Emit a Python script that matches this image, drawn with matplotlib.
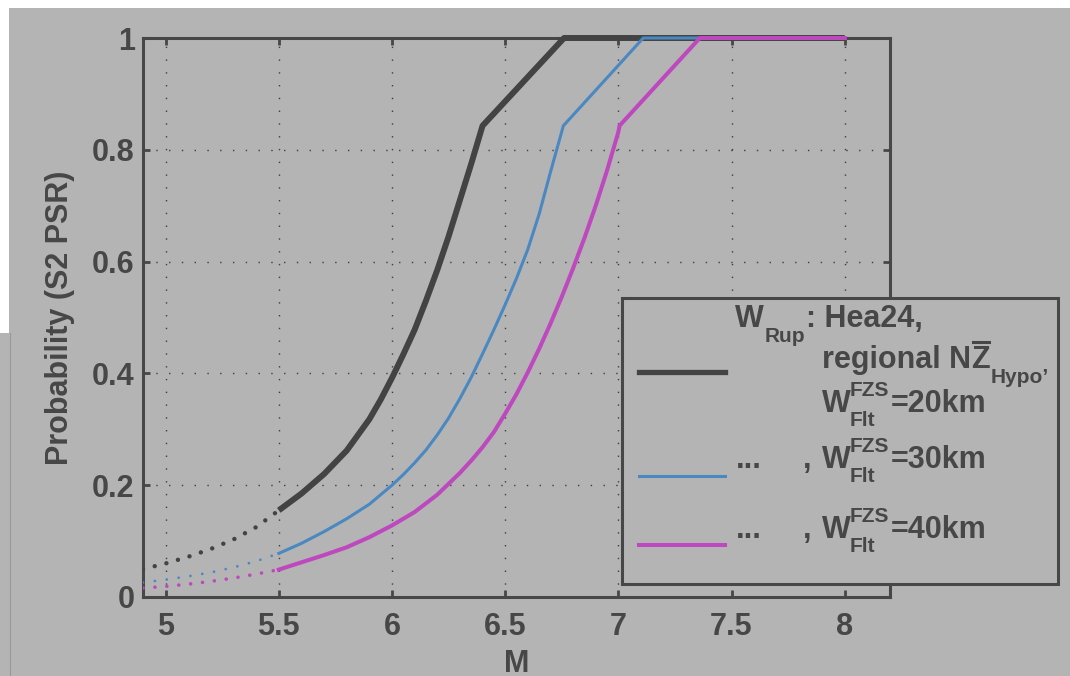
import matplotlib
matplotlib.use("Agg")
import matplotlib.pyplot as plt
from matplotlib.lines import Line2D
from matplotlib.patches import Rectangle

# ---------------- data ----------------
# solid parts (M >= 5.5)
m_black = [5.5, 5.6, 5.7, 5.8, 5.9, 5.95, 6.0, 6.05, 6.1, 6.15, 6.2, 6.25, 6.3, 6.35, 6.4, 6.76, 8.0]
p_black = [0.155, 0.185, 0.22, 0.262, 0.318, 0.353, 0.392, 0.434, 0.478, 0.53, 0.585, 0.645, 0.71, 0.775, 0.843, 1.0, 1.0]

m_blue = [5.5, 5.6, 5.7, 5.8, 5.9, 6.0, 6.05, 6.1, 6.15, 6.2, 6.25, 6.3, 6.35, 6.4, 6.45, 6.5,
          6.55, 6.6, 6.65, 6.7, 6.757, 7.11, 8.0]
p_blue = [0.078, 0.096, 0.117, 0.14, 0.166, 0.2, 0.219, 0.24, 0.263, 0.29, 0.32, 0.355, 0.393, 0.435, 0.478, 0.523,
          0.57, 0.622, 0.685, 0.76, 0.843, 1.0, 1.0]

m_mag = [5.5, 5.6, 5.7, 5.8, 5.9, 6.0, 6.1, 6.2, 6.3, 6.35, 6.4, 6.45, 6.5, 6.55, 6.6, 6.65, 6.7, 6.75,
         6.8, 6.85, 6.9, 6.95, 7.0, 7.005, 7.36, 8.0]
p_mag = [0.049, 0.062, 0.075, 0.089, 0.107, 0.128, 0.152, 0.183, 0.222, 0.244, 0.268, 0.295, 0.328, 0.363,
         0.402, 0.444, 0.489, 0.537, 0.588, 0.642, 0.70, 0.763, 0.832, 0.843, 1.0, 1.0]

# dotted extrapolations (M < 5.5)
m_ext = [4.9, 5.0, 5.1, 5.2, 5.3, 5.4, 5.5]
p_black_ext = [0.05, 0.06, 0.072, 0.086, 0.103, 0.125, 0.155]
p_blue_ext = [0.026, 0.031, 0.037, 0.044, 0.053, 0.064, 0.078]
p_mag_ext = [0.016, 0.019, 0.023, 0.028, 0.034, 0.041, 0.049]

x_ticks = [5, 5.5, 6, 6.5, 7, 7.5, 8]
x_tick_labels = ['5', '5.5', '6', '6.5', '7', '7.5', '8']
y_ticks = [0, 0.2, 0.4, 0.6, 0.8, 1.0]
y_tick_labels = ['0', '0.2', '0.4', '0.6', '0.8', '1']

# ---------------- style ----------------
BG = '#b4b4b4'
FG = '#474747'
C_BLACK = '#434343'
C_BLUE = '#4a88c2'
C_MAG = '#be48be'

plt.rcParams['font.family'] = ['Liberation Sans', 'DejaVu Sans']
plt.rcParams['font.weight'] = 'bold'

W, H = 1070, 676
fig = plt.figure(figsize=(W / 100, H / 100), dpi=100, facecolor=BG)

def fx(x):
    return x / W

def fy(y):
    return 1 - y / H

ax = fig.add_axes([fx(143), fy(597), fx(890) - fx(143), fy(38) - fy(597)])
ax.set_facecolor(BG)

# curves
ax.plot(m_black, p_black, color=C_BLACK, lw=4.3, solid_capstyle='butt', solid_joinstyle='round',
        clip_on=False, zorder=3)
ax.plot(m_blue, p_blue, color=C_BLUE, lw=2.2, solid_joinstyle='round', clip_on=False, zorder=3)
ax.plot(m_mag, p_mag, color=C_MAG, lw=2.9, solid_joinstyle='round', clip_on=False, zorder=3)

ax.plot(m_ext, p_black_ext, color=C_BLACK, lw=3.2, dashes=(0.01, 2.7), dash_capstyle='round', zorder=3)
ax.plot(m_ext, p_blue_ext, color=C_BLUE, lw=2.0, dashes=(0.01, 4.3), dash_capstyle='round', zorder=3)
ax.plot(m_ext, p_mag_ext, color=C_MAG, lw=2.6, dashes=(0.01, 3.3), dash_capstyle='round', zorder=3)

ax.set_xlim(4.9, 8.2)
ax.set_ylim(0, 1)
ax.set_xticks(x_ticks)
ax.set_xticklabels(x_tick_labels)
ax.set_yticks(y_ticks)
ax.set_yticklabels(y_tick_labels)
ax.tick_params(direction='in', length=5, width=2, color=FG, top=True, right=True,
               labelsize=22, labelcolor=FG)
ax.tick_params(axis='x', pad=11)
ax.tick_params(axis='y', pad=6)
for s in ax.spines.values():
    s.set_color(FG)
    s.set_linewidth(2.2)

ax.grid(True, color='#3e3e3e', linewidth=1.0, linestyle=(0, (1, 8.2)))

ax.set_xlabel('M', fontsize=22, color=FG, fontweight='bold')
ax.xaxis.set_label_coords(0.5, -0.093)
ax.xaxis.label.set_va('top')
ax.set_ylabel('Probability (S2 PSR)', fontsize=22, color=FG, fontweight='bold')
ax.yaxis.set_label_coords(-0.091, 0.5)

# ---------------- legend (manual, MATLAB-like layout) ----------------
fig.add_artist(Rectangle((fx(622), fy(584)), fx(1058) - fx(622), fy(298) - fy(584),
                         transform=fig.transFigure, facecolor=BG, edgecolor=FG,
                         linewidth=2.2, zorder=5))
for yy, c, lw in ((372, C_BLACK, 3.8), (476, C_BLUE, 2.2), (545, C_MAG, 2.9)):
    fig.add_artist(Line2D([fx(639), fx(725)], [fy(yy), fy(yy)], transform=fig.transFigure,
                          color=c, lw=lw, zorder=6))

renderer = fig.canvas.get_renderer()
MAIN, SMALL = 22, 15

def put(x, y, s, size=MAIN):
    t = fig.text(fx(x), fy(y), s, fontsize=size, color=FG, fontweight='bold',
                 ha='left', va='baseline', zorder=7)
    bb = t.get_window_extent(renderer)
    return bb.x1

# line 1: W_Rup: Hea24,
xr = put(735, 327, 'W')
xs = put(xr + 1, 342, 'Rup', SMALL)
put(xs + 1, 327, ': Hea24,')

# line 2: regional N Zbar _Hypo'
xn = put(822, 368, 'regional N')
xz = put(xn, 368, 'Z')
fig.add_artist(Line2D([fx(xn + 2), fx(xz - 1)], [fy(342), fy(342)], transform=fig.transFigure,
                      color=FG, lw=2.2, zorder=7))
put(xz + 1, 383, 'Hypo’', SMALL)

def wfzs(x0, base, tail):
    xw = put(x0, base, 'W')
    a = put(xw - 1, base - 16, 'FZS', SMALL)
    b = put(xw - 1, base + 14, 'Flt', SMALL)
    put(max(a, b) + 1, base, tail)

wfzs(822, 412, '=20km')

put(736, 468, '...')
put(803, 468, ',')
wfzs(822, 468, '=30km')

put(736, 538, '...')
put(803, 538, ',')
wfzs(822, 538, '=40km')

# screenshot borders
fig.add_artist(Rectangle((0, fy(8)), 1, fy(0) - fy(8), transform=fig.transFigure,
                         facecolor='white', edgecolor='none', zorder=8))
fig.add_artist(Rectangle((0, fy(333)), fx(9), fy(0) - fy(333), transform=fig.transFigure,
                         facecolor='white', edgecolor='none', zorder=8))
fig.add_artist(Line2D([fx(9.5), fx(9.5)], [0, fy(333)], transform=fig.transFigure,
                      color='#999999', lw=0.8, zorder=8))

fig.savefig('out.png', dpi=100, facecolor=BG)
